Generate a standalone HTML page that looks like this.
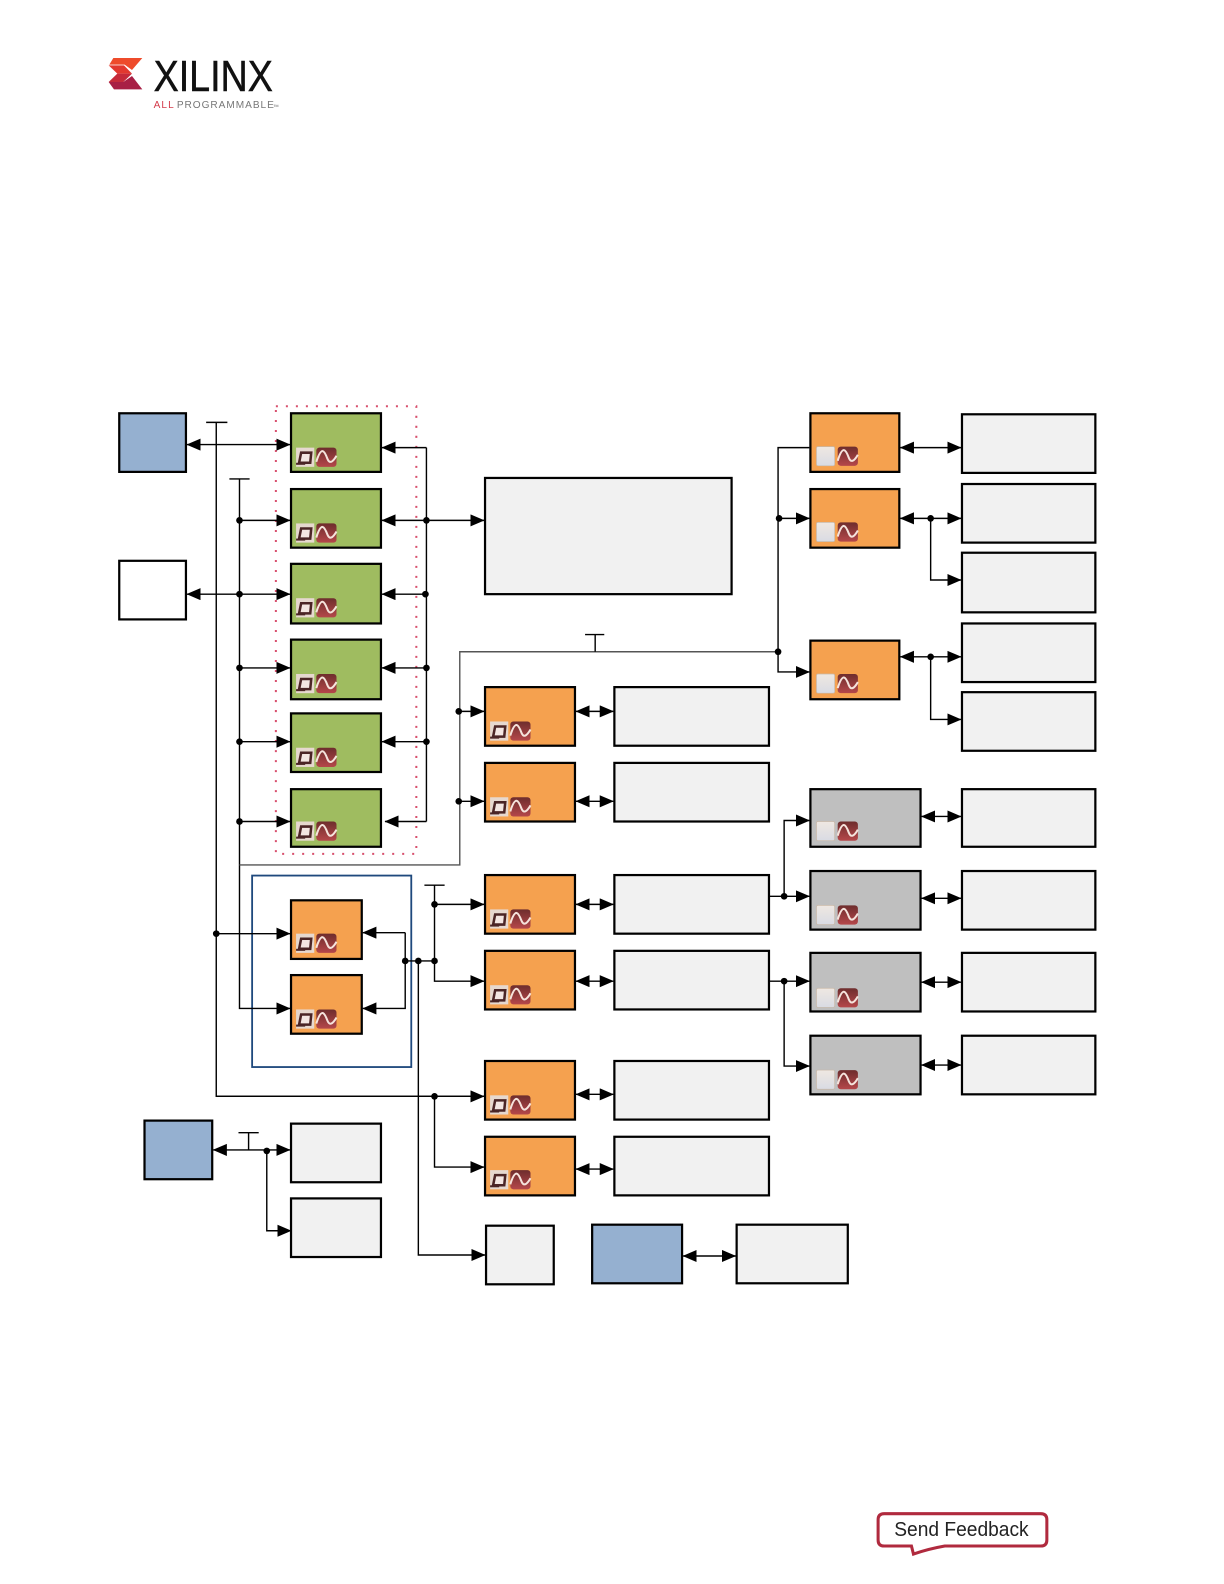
<!DOCTYPE html>
<html><head><meta charset="utf-8"><style>html,body{margin:0;padding:0;background:#fff}svg{display:block}</style></head>
<body>
<svg xmlns="http://www.w3.org/2000/svg" width="1224" height="1584" viewBox="0 0 1211.3 1567.6">
<defs>
<marker id="a" markerUnits="userSpaceOnUse" markerWidth="15" markerHeight="13" refX="13.5" refY="6" orient="auto-start-reverse"><path d="M0 0L14 6L0 12z" fill="#000"/></marker>
<linearGradient id="w" x1="0" y1="0" x2="0" y2="1"><stop offset="0" stop-color="#efe8e2"/><stop offset="1" stop-color="#d9dbe3"/></linearGradient>
<linearGradient id="r" x1="0" y1="0" x2="0" y2="1"><stop offset="0" stop-color="#6e2d2d"/><stop offset="1" stop-color="#b5474a"/></linearGradient>
<g id="i1"><rect x="0" y="0" width="18" height="19" fill="#e6d8cf"/><path d="M3 15L5 5H15L14 15z" fill="#f3e6e2" stroke="#4b2526" stroke-width="2.5"/><path d="M0 16H9" stroke="#4b2526" stroke-width="2"/></g>
<g id="i2"><rect x="0" y="0" width="20" height="19" rx="3" fill="url(#r)"/><path d="M0 14C5 -2 8 3 11 11C13 16 16 15 20 8" fill="none" stroke="#f5e3dc" stroke-width="2"/></g>
<g id="i3"><rect x="0" y="0" width="18" height="19" rx="1.5" fill="url(#w)" stroke="#c8b8a8" stroke-width=".7"/></g>
<g id="ia"><use href="#i1" x="0"/><use href="#i2" x="20"/></g>
<g id="ib"><use href="#i3" x="0"/><use href="#i2" x="21"/></g>
</defs>

<g stroke="#000" stroke-width="2.2">
<!-- green -->
<g fill="#9fbc60">
<rect x="288" y="409" width="89" height="58"/><rect x="288" y="484" width="89" height="58"/><rect x="288" y="558" width="89" height="59"/><rect x="288" y="633" width="89" height="59"/><rect x="288" y="706" width="89" height="58"/><rect x="288" y="781" width="89" height="57"/>
</g>
<!-- orange -->
<g fill="#f5a14f">
<rect x="802" y="409" width="88" height="58"/><rect x="802" y="484" width="88" height="58"/><rect x="802" y="634" width="88" height="58"/>
<rect x="480" y="680" width="89" height="58"/><rect x="480" y="755" width="89" height="58"/><rect x="480" y="866" width="89" height="58"/><rect x="480" y="941" width="89" height="58"/><rect x="480" y="1050" width="89" height="58"/><rect x="480" y="1125" width="89" height="58"/>
<rect x="288" y="891" width="70" height="58"/><rect x="288" y="965" width="70" height="58"/>
</g>
<!-- dark gray -->
<g fill="#bfbfbf">
<rect x="802" y="781" width="109" height="57"/><rect x="802" y="862" width="109" height="58"/><rect x="802" y="943" width="109" height="58"/><rect x="802" y="1025" width="109" height="58"/>
</g>
<!-- light -->
<g fill="#f1f1f1">
<rect x="480" y="473" width="244" height="115"/>
<rect x="952" y="410" width="132" height="58"/><rect x="952" y="479" width="132" height="58"/><rect x="952" y="547" width="132" height="59"/><rect x="952" y="617" width="132" height="58"/><rect x="952" y="685" width="132" height="58"/><rect x="952" y="781" width="132" height="57"/><rect x="952" y="862" width="132" height="58"/><rect x="952" y="943" width="132" height="58"/><rect x="952" y="1025" width="132" height="58"/>
<rect x="608" y="680" width="153" height="58"/><rect x="608" y="755" width="153" height="58"/><rect x="608" y="866" width="153" height="58"/><rect x="608" y="941" width="153" height="58"/><rect x="608" y="1050" width="153" height="58"/><rect x="608" y="1125" width="153" height="58"/>
<rect x="288" y="1112" width="89" height="58"/><rect x="288" y="1186" width="89" height="58"/>
<rect x="481" y="1213" width="67" height="58"/><rect x="729" y="1212" width="110" height="58"/>
</g>
<!-- blue -->
<g fill="#95b0d0">
<rect x="118" y="409" width="66" height="58"/><rect x="143" y="1109" width="67" height="58"/><rect x="586" y="1212" width="89" height="58"/>
</g>
<rect x="118" y="555" width="66" height="58" fill="#fff"/>
</g>

<rect x="249.5" y="866.5" width="157.5" height="189.5" fill="none" stroke="#1f497d" stroke-width="1.8"/>
<rect x="273" y="402" width="139" height="443" fill="none" stroke="#d8506e" stroke-width="2" stroke-dasharray="2 7.9"/>

<!-- icons -->
<g>
<use href="#ia" x="293" y="443"/><use href="#ia" x="293" y="518"/><use href="#ia" x="293" y="592"/><use href="#ia" x="293" y="667"/><use href="#ia" x="293" y="740"/><use href="#ia" x="293" y="813"/>
<use href="#ia" x="293" y="924"/><use href="#ia" x="293" y="999"/>
<use href="#ia" x="485" y="714"/><use href="#ia" x="485" y="789"/><use href="#ia" x="485" y="900"/><use href="#ia" x="485" y="975"/><use href="#ia" x="485" y="1084"/><use href="#ia" x="485" y="1158"/>
<use href="#ib" x="808" y="442"/><use href="#ib" x="808" y="517"/><use href="#ib" x="808" y="667"/>
<use href="#ib" x="808" y="813"/><use href="#ib" x="808" y="896"/><use href="#ib" x="808" y="978"/><use href="#ib" x="808" y="1059"/>
</g>

<!-- connectors -->
<g fill="none" stroke="#000" stroke-width="1.4">
<path d="M204 418H225M214 418V1085H479" />
<path d="M227 474H247M237 474V998H287" marker-end="url(#a)"/>
<path d="M214 1085H479" marker-end="url(#a)"/>
<path d="M185 440H287" marker-start="url(#a)" marker-end="url(#a)"/>
<path d="M185 588H287" marker-start="url(#a)" marker-end="url(#a)"/>
<path d="M237 515H287" marker-end="url(#a)"/><path d="M237 661H287" marker-end="url(#a)"/><path d="M237 734H287" marker-end="url(#a)"/><path d="M237 813H287" marker-end="url(#a)"/>
<path d="M422 443H378" marker-end="url(#a)"/><path d="M422 515H378" marker-end="url(#a)"/><path d="M422 588H378" marker-end="url(#a)"/><path d="M422 661H378" marker-end="url(#a)"/><path d="M422 734H378" marker-end="url(#a)"/><path d="M422 813H381" marker-end="url(#a)"/>
<path d="M422 443V813"/>
<path d="M422 515H479" marker-end="url(#a)"/>
<path d="M237 856H455V645H770" stroke="#555"/>
<path d="M579 628H598M589 628V645"/>
<path d="M454 704H479" marker-end="url(#a)"/><path d="M454 793H479" marker-end="url(#a)"/>
<path d="M801 443H770V665H801" marker-end="url(#a)"/>
<path d="M770 513H801" marker-end="url(#a)"/>
<path d="M891 443H951" marker-start="url(#a)" marker-end="url(#a)"/>
<path d="M891 513H951" marker-start="url(#a)" marker-end="url(#a)"/>
<path d="M921 513V574H951" marker-end="url(#a)"/>
<path d="M891 650H951" marker-start="url(#a)" marker-end="url(#a)"/>
<path d="M921 650V712H951" marker-end="url(#a)"/>
<path d="M570 704H607" marker-start="url(#a)" marker-end="url(#a)"/>
<path d="M570 793H607" marker-start="url(#a)" marker-end="url(#a)"/>
<path d="M570 895H607" marker-start="url(#a)" marker-end="url(#a)"/>
<path d="M570 971H607" marker-start="url(#a)" marker-end="url(#a)"/>
<path d="M570 1083H607" marker-start="url(#a)" marker-end="url(#a)"/>
<path d="M570 1157H607" marker-start="url(#a)" marker-end="url(#a)"/>
<path d="M912 808H951" marker-start="url(#a)" marker-end="url(#a)"/>
<path d="M912 889H951" marker-start="url(#a)" marker-end="url(#a)"/>
<path d="M912 972H951" marker-start="url(#a)" marker-end="url(#a)"/>
<path d="M912 1054H951" marker-start="url(#a)" marker-end="url(#a)"/>
<path d="M762 887H801" marker-end="url(#a)"/>
<path d="M776 887V812H801" marker-end="url(#a)"/>
<path d="M762 971H801" marker-end="url(#a)"/>
<path d="M776 971V1055H801" marker-end="url(#a)"/>
<path d="M214 924H287" marker-end="url(#a)"/>
<path d="M401 923H359" marker-end="url(#a)"/>
<path d="M401 923V998H359" marker-end="url(#a)"/>
<path d="M401 951H430"/>
<path d="M420 876H440M430 876V971H479" marker-end="url(#a)"/>
<path d="M430 895H479" marker-end="url(#a)"/>
<path d="M414 951V1242H480" marker-end="url(#a)"/>
<path d="M430 1085V1155H479" marker-end="url(#a)"/>
<path d="M211 1138H287" marker-start="url(#a)" marker-end="url(#a)"/>
<path d="M236 1121H256M246 1121V1138"/>
<path d="M264 1138V1218H288" marker-end="url(#a)"/>
<path d="M676 1243H728" marker-start="url(#a)" marker-end="url(#a)"/>
</g>

<!-- junctions -->
<g fill="#000">
<circle cx="237" cy="515" r="3.3"/><circle cx="237" cy="588" r="3.3"/><circle cx="237" cy="661" r="3.3"/><circle cx="237" cy="734" r="3.3"/><circle cx="237" cy="813" r="3.3"/>
<circle cx="422" cy="515" r="3.3"/><circle cx="421" cy="588" r="3.3"/><circle cx="422" cy="661" r="3.3"/><circle cx="422" cy="734" r="3.3"/>
<circle cx="454" cy="704" r="3.3"/><circle cx="454" cy="793" r="3.3"/>
<circle cx="771" cy="513" r="3.3"/><circle cx="770" cy="645" r="3.3"/>
<circle cx="921" cy="513" r="3.3"/><circle cx="921" cy="650" r="3.3"/>
<circle cx="776" cy="887" r="3.3"/><circle cx="776" cy="971" r="3.3"/>
<circle cx="214" cy="924" r="3.3"/><circle cx="401" cy="951" r="3.3"/><circle cx="414" cy="951" r="3.3"/><circle cx="430" cy="951" r="3.3"/><circle cx="430" cy="895" r="3.3"/><circle cx="430" cy="1085" r="3.3"/><circle cx="264" cy="1139" r="3.3"/>
</g>

<!-- logo -->
<g transform="translate(102.9,51.46) scale(.3299)">
<polygon points="28,18 115,18 84,54 62,38 16,38" fill="#ee4b2b"/>
<polygon points="14,40 60,40 84,65 40,65" fill="#e2382f"/>
<polygon points="40,65 84,65 58,90 14,90" fill="#c52a3a"/>
<polygon points="14,90 58,90 84,72 115,112 30,112" fill="#a81f45"/>
</g>
<g>
<text x="152" y="90" font-family="'Liberation Sans',sans-serif" font-size="43" fill="#111" stroke="#111" stroke-width=".5" textLength="118" lengthAdjust="spacingAndGlyphs">XILINX</text>
<text x="152" y="107" font-family="'Liberation Sans',sans-serif" font-size="10" fill="#d43a4a" textLength="20">ALL</text>
<text x="175" y="107" font-family="'Liberation Sans',sans-serif" font-size="10" fill="#777" textLength="96">PROGRAMMABLE</text>
<text x="270" y="108" font-family="'Liberation Sans',sans-serif" font-size="6" fill="#777">™</text>
</g>

<!-- feedback -->
<path d="M875 1498H1030Q1036 1498 1036 1504V1524Q1036 1530 1030 1530H935Q918 1533 904 1538L902 1530H875Q869 1530 869 1524V1504Q869 1498 875 1498Z" fill="#fff" stroke="#b02a3e" stroke-width="3"/>
<text x="885" y="1520" font-family="'Liberation Sans',sans-serif" font-size="20" fill="#222" textLength="133" lengthAdjust="spacingAndGlyphs">Send Feedback</text>
</svg>
</body></html>
